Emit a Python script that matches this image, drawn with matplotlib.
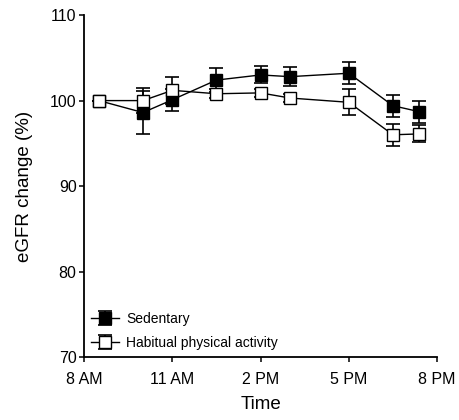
import matplotlib.pyplot as plt

plt.rcParams['font.family'] = ['Liberation Sans', 'DejaVu Sans']

# hours since midnight
hours = [8.5, 10, 11, 12.5, 14, 15, 17, 18.5, 19.4]
sed_mean = [100, 98.6, 100.1, 102.4, 103.0, 102.8, 103.2, 99.4, 98.7]
sed_err = [0, 2.5, 1.3, 1.4, 1.0, 1.1, 1.3, 1.3, 1.3]
hab_mean = [100, 100.0, 101.2, 100.8, 100.9, 100.3, 99.8, 96.0, 96.1]
hab_err = [0, 1.5, 1.6, 0.5, 0.5, 0.5, 1.5, 1.3, 1.0]

xticks = [8, 11, 14, 17, 20]
xticklabels = ['8 AM', '11 AM', '2 PM', '5 PM', '8 PM']

fig = plt.figure(figsize=(4.6, 4.2), dpi=100)
ax = fig.add_axes([0.183, 0.15, 0.767, 0.814])

ax.errorbar(hours, sed_mean, yerr=sed_err, fmt='s-', color='black',
            mfc='black', mec='black', ms=9, lw=1, elinewidth=1.2,
            capsize=5, capthick=1.2, label='Sedentary', zorder=3)
ax.errorbar(hours, hab_mean, yerr=hab_err, fmt='s-', color='black',
            mfc='white', mec='black', ms=9, lw=1, elinewidth=1.2,
            capsize=5, capthick=1.2, label='Habitual physical activity', zorder=4)

ax.set_xlim(8, 20)
ax.set_ylim(70, 110)
ax.set_xticks(xticks)
ax.set_xticklabels(xticklabels)
ax.set_yticks([70, 80, 90, 100, 110])
ax.tick_params(labelsize=11.5, direction='out', length=3.5, width=1.1, pad=2)
ax.tick_params(axis='x', pad=7)
ax.spines['top'].set_visible(False)
ax.spines['right'].set_visible(False)
ax.spines['left'].set_linewidth(1.3)
ax.spines['bottom'].set_linewidth(1.3)

ax.set_xlabel('Time', fontsize=13.5, labelpad=7)
ax.set_ylabel('eGFR change (%)', fontsize=13.5, labelpad=12)

ax.legend(loc='lower left', frameon=False, fontsize=10, handlelength=2,
          borderaxespad=0.1, labelspacing=0.75, handletextpad=0.5)

plt.savefig('out.png', dpi=100)
